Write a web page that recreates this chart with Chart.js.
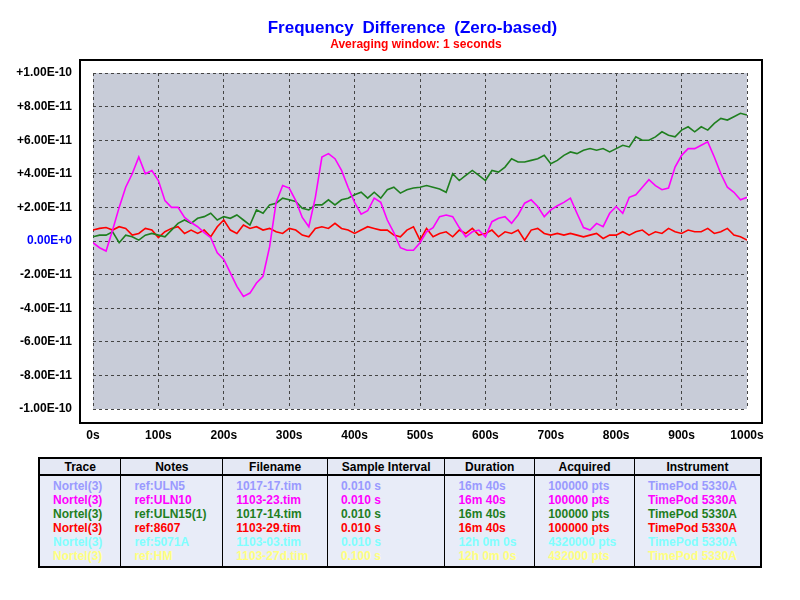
<!DOCTYPE html>
<html><head><meta charset="utf-8">
<script src="https://cdn.jsdelivr.net/npm/chart.js@4"></script>
<style>
body{margin:0;background:#fff;font-family:"Liberation Sans",Arial,sans-serif;}
#wrap{position:absolute;left:0;top:0;width:800px;height:450px;}
#t1{position:absolute;z-index:2;left:0;width:825px;top:18px;text-align:center;color:#0000ff;font-weight:bold;font-size:17px;word-spacing:4px;}
#t2{position:absolute;z-index:2;left:0;width:832px;top:37px;text-align:center;color:#ff0000;font-weight:bold;font-size:12px;}
table{position:absolute;left:38px;top:457px;width:724px;border-collapse:collapse;border:2px solid #000;font-size:12px;font-weight:bold;background:#e8ecf8;}
th{border:1px solid #000;border-bottom:2px solid #000;height:15px;padding:0;color:#000;background:#e4e8f4;}
td{border-left:1px solid #000;border-right:1px solid #000;padding:0 0 0 13px;height:14px;line-height:14px;}
tr.first td{padding-top:3px;}
tr.last td{padding-bottom:3px;}
</style></head><body>
<div id="t1">Frequency Difference (Zero-based)</div>
<div id="t2">Averaging window: 1 seconds</div>
<div id="wrap"><canvas id="c" width="800" height="450"></canvas></div>
<table id="tbl">
<colgroup><col style="width:82px"><col style="width:102px"><col style="width:105px"><col style="width:118px"><col style="width:90px"><col style="width:100px"><col style="width:127px"></colgroup>
<thead><tr><th>Trace</th><th>Notes</th><th>Filename</th><th>Sample Interval</th><th>Duration</th><th>Acquired</th><th>Instrument</th></tr></thead>
<tbody id="tb"></tbody></table>
<script>
const times = Array.from({length:101},(_, i)=>i*10);
// values in units of 1e-11
const magenta = [-0.1,-0.4,-0.6,0.65,2.0,3.2,4.0,5.0,4.0,4.2,3.6,2.4,2.0,2.0,1.4,1.1,0.85,0.5,0.2,-0.7,-1.1,-1.9,-2.7,-3.3,-3.1,-2.5,-2.1,-0.35,2.3,3.3,3.15,2.4,1.4,0.85,2.6,5.0,5.2,4.9,4.2,3.2,2.3,1.6,1.8,2.55,2.3,1.25,0.5,-0.4,-0.55,-0.55,-0.1,0.55,0.8,1.45,1.55,1.45,0.8,0.25,0.55,0.65,0.25,1.15,1.35,1.45,1.05,1.55,2.25,2.45,2.05,1.45,1.85,2.1,2.3,2.55,1.65,0.8,0.65,1.05,0.85,1.65,2.05,1.65,2.6,2.75,3.2,3.65,3.3,3.05,3.15,4.4,5.1,5.5,5.5,5.7,5.9,5.0,4.0,3.2,2.9,2.45,2.6];
const green = [0.25,0.35,0.35,0.55,-0.1,0.35,0.25,0.05,0.35,0.45,0.35,0.25,0.65,1.05,1.25,1.05,1.35,1.45,1.65,1.25,1.45,1.35,1.55,1.25,0.95,1.85,1.65,2.15,2.25,2.55,2.45,2.35,1.95,1.85,2.15,2.15,2.45,2.15,2.45,2.55,2.75,2.9,2.55,2.9,2.55,3.05,3.2,2.85,3.05,3.15,3.2,3.3,3.2,3.1,2.9,4.0,3.6,3.9,4.2,3.9,3.6,4.2,4.1,4.4,4.9,4.7,4.7,4.8,4.9,5.1,4.6,4.8,5.1,5.3,5.2,5.4,5.5,5.4,5.5,5.3,5.5,5.7,5.6,6.2,6.0,6.0,6.2,6.5,6.3,6.2,6.6,6.8,6.5,6.8,6.6,7.0,7.3,7.2,7.4,7.6,7.5];
const red = [0.65,0.75,0.8,0.65,0.85,0.75,0.35,0.45,0.75,0.65,0.2,0.55,0.75,0.85,0.45,0.65,0.45,0.65,0.25,0.85,1.25,0.65,0.45,0.95,0.75,0.85,0.65,0.75,0.55,0.45,0.75,0.65,0.35,0.25,0.75,0.85,0.75,1.05,0.75,0.65,0.45,0.65,0.85,0.75,0.65,0.65,0.35,0.25,0.65,0.85,0.05,0.75,0.25,0.45,0.55,0.25,0.65,0.45,0.75,0.35,0.45,0.65,0.25,0.55,0.45,0.65,0.05,0.65,0.75,0.45,0.35,0.45,0.35,0.45,0.35,0.25,0.35,0.45,0.15,0.35,0.35,0.55,0.35,0.55,0.65,0.35,0.55,0.45,0.75,0.55,0.45,0.65,0.55,0.55,0.75,0.45,0.55,0.75,0.35,0.25,0.05];
const yTicks = ["+1.00E-10","+8.00E-11","+6.00E-11","+4.00E-11","+2.00E-11","0.00E+0","-2.00E-11","-4.00E-11","-6.00E-11","-8.00E-11","-1.00E-10"];
const tableRows = [
 ["#9a9aff","Nortel(3)","ref:ULN5","1017-17.tim","0.010 s","16m 40s","100000 pts","TimePod 5330A"],
 ["#ff00ff","Nortel(3)","ref:ULN10","1103-23.tim","0.010 s","16m 40s","100000 pts","TimePod 5330A"],
 ["#1f7f1f","Nortel(3)","ref:ULN15(1)","1017-14.tim","0.010 s","16m 40s","100000 pts","TimePod 5330A"],
 ["#ff0000","Nortel(3)","ref:8607","1103-29.tim","0.010 s","16m 40s","100000 pts","TimePod 5330A"],
 ["#80ffff","Nortel(3)","ref:5071A","1103-03.tim","0.010 s","12h 0m 0s","4320000 pts","TimePod 5330A"],
 ["#ffff80","Nortel(3)","ref:HM","1103-27d.tim","0.100 s","12h 0m 0s","432000 pts","TimePod 5330A"]];
const tb=document.getElementById('tb');
tableRows.forEach((r,i)=>{const tr=document.createElement('tr');if(i==0)tr.className='first';if(i==tableRows.length-1)tr.className='last';
 r.slice(1).forEach(v=>{const td=document.createElement('td');td.textContent=v;td.style.color=r[0];tr.appendChild(td);});tb.appendChild(tr);});
const pts=a=>a.map((v,i)=>({x:times[i],y:v}));
const frame={id:'frame',beforeDraw(c){const ctx=c.ctx,a=c.chartArea;ctx.save();ctx.fillStyle='#fff';ctx.fillRect(0,0,c.width,c.height);
 ctx.fillStyle='#c8ccd8';ctx.fillRect(a.left,a.top,a.right-a.left,a.bottom-a.top);
 ctx.strokeStyle='#000';ctx.lineWidth=2;ctx.strokeRect(a.left-13,a.top-13,(a.right-a.left)+28,(a.bottom-a.top)+27);ctx.restore();}};
const ds=(d,col)=>({data:pts(d),borderColor:col,borderWidth:1.6,pointRadius:0,tension:0,fill:false});
new Chart(document.getElementById('c'),{type:'line',
 data:{datasets:[ds(magenta,'#ff00ff'),ds(green,'#1f7f1f'),ds(red,'#ff0000')]},
 options:{responsive:false,animation:false,layout:{padding:{left:0,right:53,top:73,bottom:0}},
  plugins:{legend:{display:false},tooltip:{enabled:false}},
  scales:{
   x:{type:'linear',min:0,max:1000,afterFit:s=>{s.height=41;},
      border:{display:false,dash:[3,3]},grid:{color:'#444',drawTicks:false},
      ticks:{stepSize:100,padding:19,color:'#000',font:{family:'Liberation Sans',weight:'bold',size:12},callback:v=>v+'s'}},
   y:{type:'linear',min:-10,max:10,afterFit:s=>{s.width=93;},
      border:{display:false,dash:[3,3]},grid:{color:'#444',drawTicks:false},
      ticks:{stepSize:2,padding:21,font:{family:'Liberation Sans',weight:'bold',size:12},
        color:c=>c.tick&&c.tick.value===0?'#0000ff':'#000',
        callback:v=>yTicks[Math.round((10-v)/2)]}}}},
 plugins:[frame]});
</script></body></html>
